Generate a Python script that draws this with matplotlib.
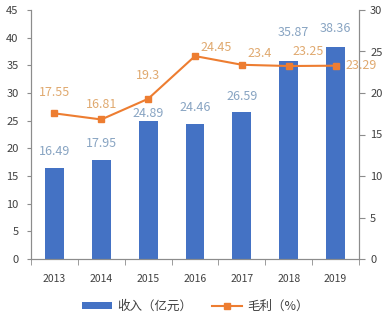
import matplotlib
matplotlib.use("Agg")
import matplotlib.pyplot as plt
import numpy as np

plt.rcParams["font.family"] = ["Noto Sans CJK SC", "DejaVu Sans"]

years = ["2013", "2014", "2015", "2016", "2017", "2018", "2019"]
revenue = [16.49, 17.95, 24.89, 24.46, 26.59, 35.87, 38.36]
margin = [17.55, 16.81, 19.3, 24.45, 23.4, 23.25, 23.29]

BLUE = "#4472C4"
ORANGE = "#ED7D31"
BAR_LABEL = "#88A4C2"
LINE_LABEL = "#E0A96F"
AXIS = "#8C8C8C"
TEXT = "#404040"

# label offsets in pixels (dx, dy) from the data point
bar_offsets = [(0, 16), (0, 16), (0, 8), (0, 16), (0, 15), (5, 28), (0, 18)]
line_offsets = [(0, 21), (0, 15), (0, 23), (21, 9), (18, 11), (19, 15), (26, 0)]

fig = plt.figure(figsize=(3.91, 3.24), dpi=100)
ax = fig.add_axes([31 / 391, 65 / 324, 328 / 391, 249 / 324])
ax2 = ax.twinx()

x = np.arange(len(years))
bars = ax.bar(x, revenue, width=0.4, color=BLUE, zorder=2)
line, = ax2.plot(x, margin, color=ORANGE, lw=1.5, marker="s", ms=4.5,
                 zorder=3)

ax.set_xlim(-0.5, len(years) - 0.5)
ax.set_ylim(0, 45)
ax.set_yticks(np.arange(0, 46, 5))
ax2.set_ylim(0, 30)
ax2.set_yticks(np.arange(0, 31, 5))

ax.set_xticks(x)
ax.set_xticklabels(years)
ax.set_xticks(np.arange(-0.5, len(years), 1), minor=True)
ax.tick_params(axis="x", which="major", length=0, pad=11, labelsize=7.5,
               colors=TEXT)
ax.tick_params(axis="x", which="minor", length=4, color=AXIS, direction="out")
ax.tick_params(axis="y", length=3, color=AXIS, labelsize=8, labelcolor=TEXT,
               pad=6)
ax2.tick_params(axis="y", length=4, color=AXIS, labelsize=8, labelcolor=TEXT,
                pad=4)

for a in (ax, ax2):
    a.spines["top"].set_visible(False)
    for s in ("left", "right", "bottom"):
        a.spines[s].set_color(AXIS)
        a.spines[s].set_linewidth(0.8)

# bar value labels
for xi, v, off in zip(x, revenue, bar_offsets):
    ax.annotate(f"{v:g}", (xi, v), xytext=off, textcoords="offset pixels",
                ha="center", va="center", fontsize=9, color=BAR_LABEL)

# line value labels
for xi, v, off in zip(x, margin, line_offsets):
    ax2.annotate(f"{v:g}", (xi, v), xytext=off, textcoords="offset pixels",
                 ha="center", va="center", fontsize=9, color=LINE_LABEL)

fig.legend([bars, line], ["收入（亿元）", "毛利（%）"], loc="center",
           bbox_to_anchor=(0.5, 18 / 324), ncol=2, frameon=False,
           fontsize=9, labelcolor=TEXT, handlelength=2.4, handleheight=0.5,
           handletextpad=0.4, columnspacing=1.6)

fig.savefig("out.png", dpi=100)
